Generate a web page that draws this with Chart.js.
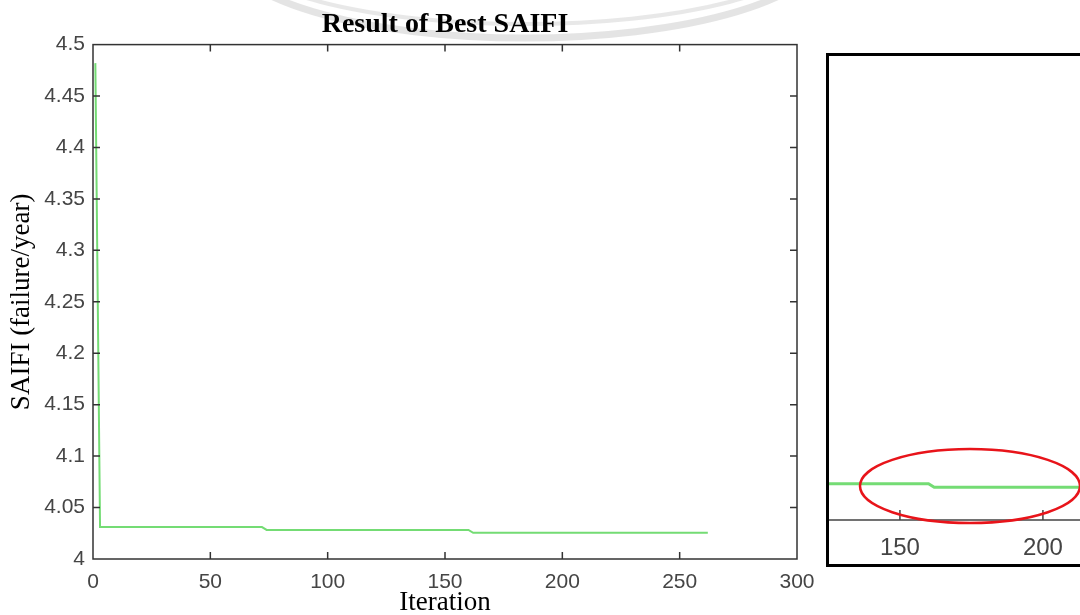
<!DOCTYPE html>
<html lang="en">
<head>
    <meta charset="UTF-8">
    <title>Result of Best SAIFI</title>
    <script src="https://cdn.jsdelivr.net/npm/chart.js"></script>
    <style>
        html, body { margin: 0; padding: 0; background: #fff; overflow: hidden; }
        body { width: 1080px; height: 615px; position: relative; }
        #mainChart { position: absolute; left: 0; top: 0; }
        #insetWrap { position: absolute; left: 826px; top: 53px; width: 300px; height: 508px;
                     border: 3px solid #000; background: #fff; }
    </style>
</head>
<body>
    <canvas id="mainChart" width="830" height="615"></canvas>
    <div id="insetWrap"><canvas id="insetChart" width="300" height="508"></canvas></div>

    <script>
        // data (step-wise best SAIFI per iteration)
        const iterations = [1, 3, 72, 74, 160, 162, 262];
        const saifi = [4.482, 4.031, 4.031, 4.0283, 4.0283, 4.0254, 4.0254];
        const xTicks = [0, 50, 100, 150, 200, 250, 300];
        const yTicks = [4, 4.05, 4.1, 4.15, 4.2, 4.25, 4.3, 4.35, 4.4, 4.45, 4.5];
        const insetTicks = [150, 200];

        const points = iterations.map((x, i) => ({ x: x, y: saifi[i] }));
        const lineColor = '#74dc74';
        const tickFont = { family: '"Liberation Sans", Arial, sans-serif', size: 21 };
        const serif = '"Liberation Serif", "Times New Roman", serif';

        // matlab style box with inward ticks
        const boxTicks = {
            id: 'boxTicks',
            afterDraw(chart) {
                const { ctx, chartArea: a, scales } = chart;
                ctx.save();
                ctx.strokeStyle = '#333';
                ctx.lineWidth = 1.5;
                ctx.strokeRect(a.left, a.top, a.right - a.left, a.bottom - a.top);
                ctx.beginPath();
                xTicks.slice(1, -1).forEach(v => {
                    const px = scales.x.getPixelForValue(v);
                    ctx.moveTo(px, a.bottom); ctx.lineTo(px, a.bottom - 7);
                    ctx.moveTo(px, a.top); ctx.lineTo(px, a.top + 7);
                });
                yTicks.slice(1, -1).forEach(v => {
                    const py = scales.y.getPixelForValue(v);
                    ctx.moveTo(a.left, py); ctx.lineTo(a.left + 7, py);
                    ctx.moveTo(a.right, py); ctx.lineTo(a.right - 7, py);
                });
                ctx.stroke();
                ctx.restore();
            }
        };

        // faint grey arc behind the title
        const topArc = {
            id: 'topArc',
            beforeDraw(chart) {
                const ctx = chart.ctx;
                ctx.save();
                ctx.strokeStyle = 'rgba(205,205,205,0.55)';
                ctx.lineWidth = 7;
                ctx.beginPath();
                ctx.ellipse(525, -52, 300, 90, 0, 0, Math.PI);
                ctx.stroke();
                ctx.lineWidth = 4;
                ctx.strokeStyle = 'rgba(210,210,210,0.5)';
                ctx.beginPath();
                ctx.ellipse(525, -52, 290, 76, 0, 0, Math.PI);
                ctx.stroke();
                ctx.restore();
            }
        };

        new Chart(document.getElementById('mainChart'), {
            type: 'line',
            data: {
                datasets: [{
                    data: points,
                    borderColor: lineColor,
                    borderWidth: 2,
                    pointRadius: 0,
                    tension: 0
                }]
            },
            options: {
                responsive: false,
                animation: false,
                events: [],
                layout: { padding: { left: 0, right: 33, top: 0, bottom: 0 } },
                plugins: {
                    legend: { display: false },
                    tooltip: { enabled: false },
                    title: {
                        display: true,
                        text: 'Result of Best SAIFI',
                        fullSize: false,
                        color: '#000',
                        font: { family: serif, size: 28, weight: 'bold' },
                        padding: { top: 8, bottom: 3 }
                    }
                },
                scales: {
                    x: {
                        type: 'linear',
                        min: 0,
                        max: 300,
                        afterBuildTicks: s => { s.ticks = xTicks.map(v => ({ value: v })); },
                        afterFit: s => { s.height = 56; },
                        grid: { display: false, drawTicks: false },
                        border: { display: false },
                        ticks: { color: '#454545', font: tickFont, padding: 11, maxRotation: 0 },
                        title: {
                            display: true,
                            text: 'Iteration',
                            color: '#000',
                            font: { family: serif, size: 27 },
                            padding: { top: 0, bottom: -4 }
                        }
                    },
                    y: {
                        min: 4,
                        max: 4.5,
                        afterBuildTicks: s => { s.ticks = yTicks.map(v => ({ value: v })); },
                        afterFit: s => { s.width = 93; },
                        grid: { display: false, drawTicks: false },
                        border: { display: false },
                        ticks: {
                            color: '#454545',
                            font: tickFont,
                            padding: 8,
                            callback: v => String(Number(v.toFixed(2)))
                        },
                        title: {
                            display: true,
                            text: 'SAIFI (failure/year)',
                            color: '#000',
                            font: { family: serif, size: 27 },
                            padding: { top: 6, bottom: 0 }
                        }
                    }
                }
            },
            plugins: [topArc, boxTicks]
        });

        // zoomed inset with the red highlight ellipse
        const insetDecor = {
            id: 'insetDecor',
            afterDraw(chart) {
                const { ctx, chartArea: a, scales } = chart;
                ctx.save();
                ctx.strokeStyle = '#444';
                ctx.lineWidth = 1.5;
                ctx.beginPath();
                ctx.moveTo(a.left, a.bottom); ctx.lineTo(a.right, a.bottom);
                insetTicks.forEach(v => {
                    const px = scales.x.getPixelForValue(v);
                    ctx.moveTo(px, a.bottom); ctx.lineTo(px, a.bottom - 10);
                });
                ctx.stroke();
                ctx.strokeStyle = '#e8141a';
                ctx.lineWidth = 2.5;
                ctx.beginPath();
                ctx.ellipse(scales.x.getPixelForValue(174.5), scales.y.getPixelForValue(4.0264), 110, 37, 0, 0, Math.PI * 2);
                ctx.stroke();
                ctx.restore();
            }
        };

        new Chart(document.getElementById('insetChart'), {
            type: 'line',
            data: {
                datasets: [{
                    data: points,
                    borderColor: lineColor,
                    borderWidth: 3,
                    pointRadius: 0,
                    tension: 0
                }]
            },
            options: {
                responsive: false,
                animation: false,
                events: [],
                layout: { padding: 0 },
                plugins: { legend: { display: false }, tooltip: { enabled: false } },
                scales: {
                    x: {
                        type: 'linear',
                        min: 125.2,
                        max: 230.1,
                        afterBuildTicks: s => { s.ticks = insetTicks.map(v => ({ value: v })); },
                        afterFit: s => { s.height = 44; },
                        grid: { display: false, drawTicks: false },
                        border: { display: false },
                        ticks: {
                            color: '#444',
                            font: { family: '"Liberation Sans", Arial, sans-serif', size: 24 },
                            padding: 14,
                            maxRotation: 0
                        }
                    },
                    y: { display: false, min: 4, max: 4.361 }
                }
            },
            plugins: [insetDecor]
        });
    </script>
</body>
</html>
